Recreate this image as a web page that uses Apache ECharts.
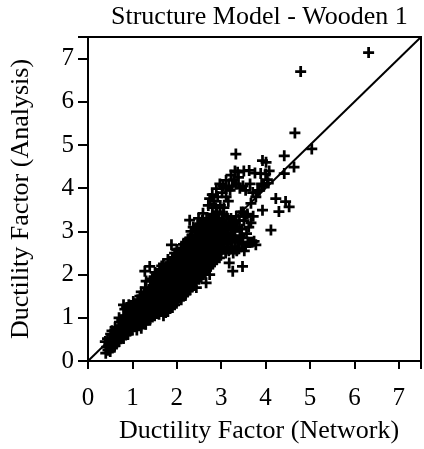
<!DOCTYPE html>
<html>
<head>
<meta charset="utf-8">
<script src="https://cdn.jsdelivr.net/npm/echarts@6/dist/echarts.min.js"></script>
<style>
html,body{margin:0;padding:0;background:#fff;}
#chart{width:424px;height:449px;}
</style>
</head>
<body>
<div id="chart"></div>
<script>
const titleText = "Structure Model - Wooden 1";
const xAxisName = "Ductility Factor (Network)";
const yAxisName = "Ductility Factor (Analysis)";
const tickValues = [0, 1, 2, 3, 4, 5, 6, 7];
const diagonal = [[0, 0], [7.5, 7.5]];

const cloudLow = [
[0.40,0.18],[0.42,0.32],[0.39,0.45],
[0.45,0.25],[0.47,0.40],[0.44,0.52],
[0.50,0.22],[0.52,0.35],[0.49,0.50],[0.51,0.62],
[0.55,0.30],[0.57,0.45],[0.54,0.70],
[0.60,0.35],[0.62,0.50],[0.59,0.62],[0.61,0.78],
[0.65,0.42],[0.67,0.58],[0.64,0.72],
[0.70,0.45],[0.72,0.60],[0.69,0.75],[0.71,0.90],[0.70,1.00],
[0.75,0.55],[0.77,0.68],[0.74,0.82],[0.76,0.95],
[0.80,0.52],[0.82,0.65],[0.79,0.80],[0.81,0.92],[0.80,1.05],[0.83,1.20],[0.80,1.30],
[0.85,0.60],[0.87,0.75],[0.84,0.88],[0.86,1.00],[0.87,1.24],
[0.90,0.62],[0.92,0.78],[0.89,0.90],[0.91,1.05],[0.90,1.18],[0.92,1.30],
[0.95,0.70],[0.97,0.85],[0.94,0.98],[0.96,1.10],[0.95,1.25],
[1.00,0.72],[1.02,0.86],[0.99,1.00],[1.01,1.12],[1.00,1.25],[1.02,1.38],
[1.05,0.80],[1.07,0.95],[1.04,1.08],[1.06,1.20],[1.05,1.32],
[1.10,0.72],[1.12,0.88],[1.09,1.02],[1.11,1.15],[1.10,1.28],[1.12,1.42],
[1.15,0.82],[1.17,0.96],[1.14,1.10],[1.16,1.24],[1.15,1.38],[1.17,1.50],
[1.20,0.76],[1.22,0.90],[1.19,1.05],[1.21,1.18],[1.20,1.32],[1.22,1.45],[1.20,1.60],
[1.25,0.88],[1.27,1.00],[1.24,1.14],[1.26,1.28],[1.25,1.40],[1.27,1.55],
[1.30,0.85],[1.32,1.00],[1.29,1.12],[1.31,1.25],[1.30,1.40],[1.32,1.55],[1.29,1.70],[1.31,1.85],
[1.35,0.95],[1.37,1.08],[1.34,1.22],[1.36,1.36],[1.35,1.50],[1.37,1.65],[1.28,2.08],[1.39,2.19],
[1.40,0.98],[1.42,1.12],[1.39,1.26],[1.41,1.40],[1.40,1.55],[1.42,1.70],[1.40,1.85],
[1.45,1.02],[1.47,1.18],[1.44,1.32],[1.46,1.46],[1.45,1.60],[1.47,1.75],[1.45,1.90]
];

const cloudMid = [
[1.50,1.05],[1.52,1.20],[1.49,1.35],[1.51,1.50],[1.50,1.65],[1.52,1.80],[1.49,1.95],[1.51,2.05],
[1.55,1.10],[1.57,1.25],[1.54,1.40],[1.56,1.55],[1.55,1.70],[1.57,1.85],[1.54,2.00],
[1.60,1.08],[1.62,1.22],[1.59,1.38],[1.61,1.52],[1.60,1.68],[1.62,1.82],[1.59,1.98],[1.61,2.12],
[1.65,1.15],[1.67,1.30],[1.64,1.45],[1.66,1.60],[1.65,1.75],[1.67,1.90],[1.64,2.05],[1.66,2.20],
[1.70,1.05],[1.72,1.20],[1.69,1.35],[1.71,1.50],[1.70,1.65],[1.72,1.80],[1.69,1.95],[1.71,2.10],[1.70,2.25],
[1.75,1.12],[1.77,1.28],[1.74,1.42],[1.76,1.58],[1.75,1.72],[1.77,1.88],[1.74,2.02],[1.76,2.18],
[1.80,1.15],[1.82,1.30],[1.79,1.45],[1.81,1.60],[1.80,1.75],[1.82,1.90],[1.79,2.05],[1.81,2.20],[1.80,2.35],
[1.85,1.22],[1.87,1.38],[1.84,1.52],[1.86,1.68],[1.85,1.82],[1.87,1.98],[1.84,2.12],[1.86,2.28],
[1.90,1.24],[1.92,1.35],[1.89,1.50],[1.91,1.65],[1.90,1.80],[1.92,1.95],[1.89,2.10],[1.91,2.25],[1.90,2.40],[1.88,2.69],
[1.95,1.30],[1.97,1.45],[1.94,1.60],[1.96,1.75],[1.95,1.90],[1.97,2.05],[1.94,2.20],[1.96,2.35],[1.95,2.50],
[2.00,1.38],[2.02,1.52],[1.99,1.68],[2.01,1.82],[2.00,1.98],[2.02,2.12],[1.99,2.28],[2.01,2.42],[2.00,2.58],
[2.05,1.45],[2.07,1.60],[2.04,1.75],[2.06,1.90],[2.05,2.05],[2.07,2.20],[2.04,2.35],[2.06,2.50],
[2.10,1.42],[2.12,1.58],[2.09,1.72],[2.11,1.88],[2.10,2.02],[2.12,2.18],[2.09,2.32],[2.11,2.48],[2.10,2.62],
[2.15,1.50],[2.17,1.65],[2.14,1.80],[2.16,1.95],[2.15,2.10],[2.17,2.25],[2.14,2.40],[2.16,2.55],[2.15,2.70],
[2.20,1.55],[2.22,1.70],[2.19,1.85],[2.21,2.00],[2.20,2.15],[2.22,2.30],[2.19,2.45],[2.21,2.60],[2.20,2.75],
[2.25,1.62],[2.27,1.78],[2.24,1.92],[2.26,2.08],[2.25,2.22],[2.27,2.38],[2.24,2.52],[2.26,2.68],[2.25,2.82],
[2.30,1.65],[2.32,1.80],[2.29,1.95],[2.31,2.10],[2.30,2.25],[2.32,2.40],[2.29,2.55],[2.31,2.70],[2.30,2.85],[2.32,3.00],[2.29,3.26],
[2.35,1.72],[2.37,1.88],[2.34,2.02],[2.36,2.18],[2.35,2.32],[2.37,2.48],[2.34,2.62],[2.36,2.78],[2.35,2.92],[2.37,3.10],
[2.40,1.80],[2.42,1.85],[2.39,2.00],[2.41,2.15],[2.40,2.30],[2.42,2.45],[2.39,2.60],[2.41,2.75],[2.40,2.90],[2.42,3.05],
[2.44,1.70],[2.47,1.95],[2.44,2.10],[2.46,2.25],[2.45,2.40],[2.47,2.55],[2.44,2.70],[2.46,2.85],[2.45,3.00],[2.47,3.15]
];

const cloudHigh = [
[2.50,1.90],[2.52,1.98],[2.49,2.12],[2.51,2.28],[2.50,2.42],[2.52,2.58],[2.49,2.72],[2.51,2.88],[2.50,3.02],[2.52,3.18],[2.49,3.30],
[2.55,1.95],[2.57,2.05],[2.54,2.20],[2.56,2.35],[2.55,2.50],[2.57,2.65],[2.54,2.80],[2.56,2.95],[2.55,3.10],[2.57,3.25],
[2.60,2.00],[2.62,2.10],[2.59,2.15],[2.61,2.30],[2.60,2.45],[2.62,2.60],[2.59,2.75],[2.61,2.90],[2.60,3.05],[2.62,3.20],[2.59,3.42],
[2.66,1.81],[2.67,2.10],[2.64,2.25],[2.66,2.40],[2.65,2.55],[2.67,2.70],[2.64,2.85],[2.66,3.00],[2.65,3.15],[2.67,3.30],
[2.74,2.00],[2.72,2.15],[2.69,2.20],[2.71,2.35],[2.70,2.50],[2.72,2.65],[2.69,2.80],[2.71,2.95],[2.70,3.10],[2.72,3.25],[2.74,3.76],[2.71,3.60],
[2.75,2.20],[2.77,2.30],[2.74,2.40],[2.76,2.55],[2.75,2.70],[2.77,2.85],[2.74,3.00],[2.76,3.15],[2.75,3.30],[2.80,3.55],[2.80,3.85],
[2.80,2.25],[2.82,2.40],[2.79,2.50],[2.81,2.65],[2.80,2.80],[2.82,2.95],[2.79,3.10],[2.81,3.25],[2.80,3.40],[2.84,3.70],[2.89,3.99],
[2.85,2.30],[2.87,2.45],[2.84,2.60],[2.86,2.75],[2.85,2.90],[2.87,3.05],[2.84,3.20],[2.86,3.35],[2.88,3.55],[2.92,3.80],
[2.90,2.35],[2.92,2.50],[2.89,2.65],[2.91,2.80],[2.90,2.95],[2.92,3.10],[2.89,3.25],[2.91,3.45],
[2.96,2.39],[2.97,2.55],[2.94,2.70],[2.96,2.85],[2.95,3.00],[2.97,3.15],[2.94,3.30],[2.98,3.60],[2.97,4.10],
[3.00,2.50],[3.02,2.65],[2.99,2.80],[3.01,2.95],[3.00,3.10],[3.02,3.25],[3.05,3.40],[3.02,3.90],[3.04,4.05],
[3.05,2.60],[3.07,2.75],[3.04,2.90],[3.06,3.05],[3.07,3.20],[3.06,3.55],[3.11,4.18],
[3.10,2.50],[3.12,2.80],[3.09,2.95],[3.11,3.10],[3.12,3.35],[3.11,3.80],[3.10,4.00],
[3.18,2.27],[3.17,2.55],[3.14,2.70],[3.16,2.90],[3.15,3.05],[3.17,3.20],[3.16,3.70],[3.17,4.05],
[3.22,2.75],[3.21,2.95],[3.20,3.15],[3.22,3.30],[3.22,4.30],[3.20,3.95],
[3.26,2.08],[3.27,2.50],[3.24,2.65],[3.26,2.85],[3.25,3.05],[3.27,3.25],[3.25,4.05],[3.28,4.20],
[3.30,2.60],[3.32,2.80],[3.31,3.00],[3.31,3.20],[3.31,4.40],
[3.35,2.55],[3.37,2.75],[3.36,3.10],[3.34,3.35],[3.34,4.10],[3.37,4.37],
[3.40,2.60],[3.42,2.90],[3.41,3.25],[3.42,4.00],[3.39,4.25],[3.33,4.79],
[3.48,2.19],[3.47,2.70],[3.46,3.05],[3.45,3.45]
];

const cloudTop = [
[3.52,2.55],[3.49,2.85],[3.51,3.25],[3.50,3.45],[3.49,4.05],[3.51,4.40],
[3.55,2.65],[3.57,2.95],[3.54,3.35],[3.55,3.95],
[3.60,2.75],[3.62,3.10],[3.59,3.40],[3.63,4.41],[3.67,3.65],
[3.65,2.75],[3.67,3.20],[3.65,4.10],
[3.70,2.75],[3.72,3.35],[3.71,3.90],
[3.74,2.77],[3.78,3.80],[3.76,4.35],
[3.78,2.69],[3.82,3.95],
[3.86,3.95],[3.93,4.64],[3.89,4.34],
[3.93,3.49],[3.91,4.10],
[3.96,4.05],
[4.00,4.33],[4.08,4.40],[4.01,4.60],
[4.06,4.12],[4.04,4.20],
[4.12,3.03]
];

const outliers = [
[4.23,3.76],[4.45,3.69],[4.53,3.57],[4.30,3.46],
[4.42,4.75],[4.42,4.34],[4.64,4.49],[4.66,5.28],
[5.04,4.91],[4.79,6.70],[6.32,7.14]
];

const points = [].concat(cloudLow, cloudMid, cloudHigh, cloudTop, outliers);

const serif = "Liberation Serif";
const plus = 'path://M3.75,0H6.25V3.75H10V6.25H6.25V10H3.75V6.25H0V3.75H3.75Z';

const chart = echarts.init(document.getElementById('chart'), null, {renderer: 'canvas'});
chart.setOption({
  animation: false,
  backgroundColor: '#fff',
  title: {
    text: titleText,
    left: 106, top: -1,
    textStyle: {fontFamily: serif, fontSize: 26, fontWeight: 'normal', color: '#000'}
  },
  grid: {left: 88, right: 3, top: 37, bottom: 85, show: true, borderColor: '#000', borderWidth: 2, backgroundColor: 'transparent'},
  xAxis: {
    type: 'value', min: 0, max: 7.5, interval: 1,
    name: xAxisName, nameLocation: 'middle', nameGap: 57,
    nameTextStyle: {fontFamily: serif, fontSize: 26, color: '#000', padding: [0, 0, 0, 9]},
    axisLine: {show: true, lineStyle: {color: '#000', width: 2}},
    axisTick: {show: true, length: 8, inside: false, lineStyle: {color: '#000', width: 2}},
    axisLabel: {fontFamily: serif, fontSize: 25, color: '#000', margin: 25,
      formatter: function (v) { return tickValues.indexOf(v) >= 0 ? String(v) : ''; }},
    splitLine: {show: false}
  },
  yAxis: {
    type: 'value', min: 0, max: 7.5, interval: 1,
    name: yAxisName, nameLocation: 'middle', nameGap: 54,
    nameTextStyle: {fontFamily: serif, fontSize: 26, color: '#000'},
    axisLine: {show: true, lineStyle: {color: '#000', width: 2}},
    axisTick: {show: true, length: 10, inside: false, lineStyle: {color: '#000', width: 2}},
    axisLabel: {fontFamily: serif, fontSize: 25, color: '#000', margin: 14, padding: [8, 0, 0, 0],
      formatter: function (v) { return tickValues.indexOf(v) >= 0 ? String(v) : ''; }},
    splitLine: {show: false}
  },
  series: [
    {
      type: 'line', data: diagonal, showSymbol: false, symbol: 'none',
      lineStyle: {color: '#000', width: 2}, z: 3
    },
    {
      type: 'scatter', data: points, symbol: plus, symbolSize: 11,
      itemStyle: {color: '#000', opacity: 1}, z: 2
    }
  ]
});
</script>
</body>
</html>
